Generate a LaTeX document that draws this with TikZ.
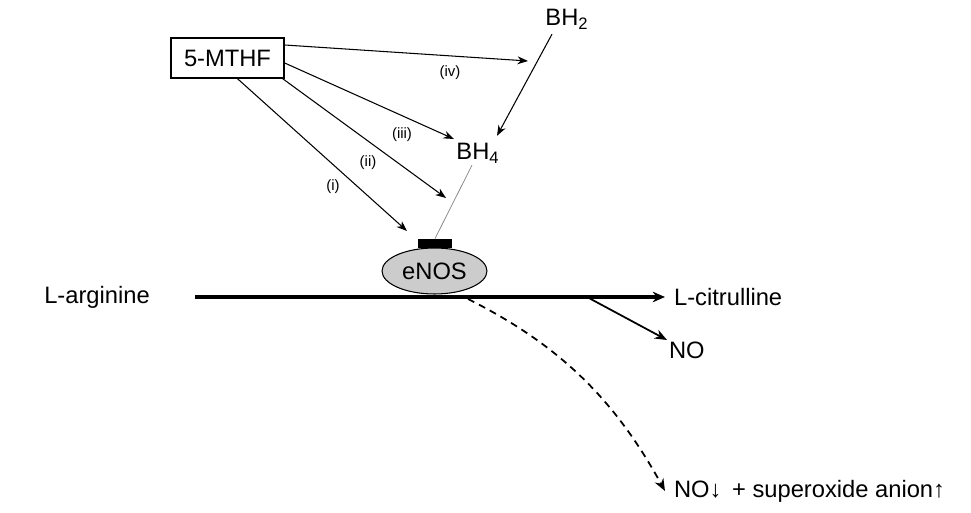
\documentclass[tikz,border=0pt]{standalone}
\usepackage{fontspec}
\setmainfont{Liberation Sans}
\usetikzlibrary{arrows.meta,shapes.geometric}

\tikzset{
  txt/.style={font=\fontsize{13.5}{16}\selectfont, inner sep=1pt},
  lab/.style={font=\fontsize{8.5}{10}\selectfont, inner sep=0pt},
  thin arr/.style={line width=0.6pt, -{Stealth[length=6pt,width=4.5pt]}},
}

\begin{document}
\begin{tikzpicture}[x=0.02cm, y=-0.02cm]
\useasboundingbox (0,0) rectangle (971,513);

\node[txt, draw, line width=0.8pt, minimum width=2.26cm, minimum height=0.8cm] (mthf) at (227.5,58) {5-MTHF};
\node[txt] (bh2) at (567,19) {BH\textsubscript{2}};
\node[txt] (bh4) at (478,153) {BH\textsubscript{4}};

% eNOS
\node[ellipse, draw, line width=0.6pt, fill=gray!40, minimum width=2.1cm, minimum height=0.92cm, txt] (enos) at (434.5,271) {eNOS};
\node[fill=black, inner sep=0pt, minimum width=0.68cm, minimum height=0.18cm] (site) at (435,243.5) {};

\node[txt] (larg) at (97,297) {L-arginine};
\node[txt, anchor=west] (lcit) at (672,297) {L-citrulline};
\node[txt, anchor=west] (no) at (667,350) {NO};
\node[txt, anchor=west] (prod) at (672,491) {NO↓\, + superoxide anion↑};

\coordinate (start) at (195,297);
\coordinate (branch) at (587,297);
\coordinate (dstart) at (468,299);

\coordinate (t4) at (528,61);
\coordinate (t3) at (454,139);
\coordinate (t2) at (446,198);
\coordinate (t1) at (407,231);

% 5-MTHF routes
\draw[thin arr] ([yshift=0.26cm]mthf.east) -- (t4);
\draw[thin arr] ([yshift=-0.1cm]mthf.east) -- (t3);
\draw[thin arr] ([xshift=-0.04cm]mthf.south east) -- (t2);
\draw[thin arr] ([xshift=0.2cm]mthf.south) -- (t1);
\node[lab] (liv) at (450,73) {(iv)};
\node[lab] (liii) at (402,135) {(iii)};
\node[lab] (lii) at (368,163) {(ii)};
\node[lab] (li) at (333,187) {(i)};

\draw[thin arr] ([xshift=-0.3cm,yshift=-0.06cm]bh2.south) -- ([xshift=0.38cm,yshift=0.1cm]bh4.north);
\draw[gray, line width=0.4pt] ([xshift=-0.12cm]bh4.south) -- (site.north);

% reaction
\draw[line width=1.8pt, shorten >=0.14cm, -{Stealth[length=7pt,width=6pt]}] (start) -- (lcit.west);
\draw[line width=1pt, -{Stealth[length=7pt,width=5.5pt]}] (branch) -- ([yshift=0.2cm]no.west);
\draw[line width=1pt, dash pattern=on 4pt off 3pt, -{Stealth[length=7pt,width=5.5pt]}]
  (dstart) .. controls (560,345) and (615,400) .. ([xshift=-0.14cm]prod.west);

\end{tikzpicture}
\end{document}
